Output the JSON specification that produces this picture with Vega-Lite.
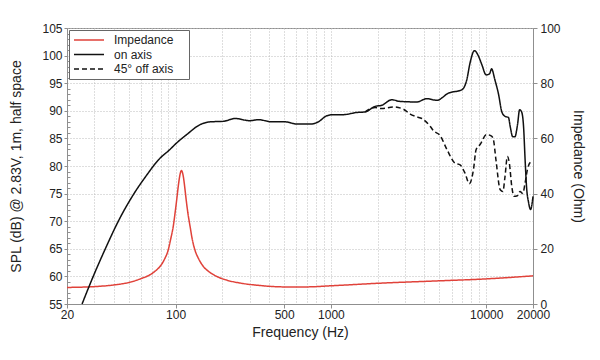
{
  "$schema": "https://vega.github.io/schema/vega-lite/v6.json",
  "width": 466,
  "height": 276,
  "autosize": {"type": "none"},
  "padding": {"left": 67, "top": 28, "right": 67, "bottom": 56},
  "background": "white",
  "config": {
    "font": "Liberation Sans",
    "view": {"stroke": "#8f8f8f", "strokeWidth": 1},
    "axis": {
      "domainColor": "#8f8f8f",
      "tickColor": "#8f8f8f",
      "labelColor": "#222",
      "labelFontSize": 12,
      "labelFont": "Liberation Sans",
      "titleFont": "Liberation Sans",
      "titleFontSize": 14,
      "titleFontWeight": "normal",
      "titleColor": "#222",
      "gridColor": "#bdbdbd",
      "gridDash": [1, 2],
      "gridWidth": 1
    },
    "legend": {
      "orient": "none",
      "legendX": 2,
      "legendY": 2,
      "titleOrient": "right",
      "titleOpacity": 0,
      "titleFontSize": 5,
      "titlePadding": 4,
      "symbolType": "stroke",
      "symbolSize": 900,
      "symbolStrokeWidth": 1.5,
      "labelFontSize": 12,
      "labelColor": "#222",
      "labelFont": "Liberation Sans",
      "labelOffset": 9,
      "clipHeight": 12,
      "rowPadding": 2.5,
      "padding": 4,
      "strokeColor": "#666",
      "fillColor": "white"
    }
  },
  "datasets": {
    "curves": [
      {"series": "Impedance", "freq": 20, "value": 6.0},
      {"series": "Impedance", "freq": 30, "value": 6.3},
      {"series": "Impedance", "freq": 40, "value": 6.9},
      {"series": "Impedance", "freq": 50, "value": 7.8},
      {"series": "Impedance", "freq": 60, "value": 9.2},
      {"series": "Impedance", "freq": 68.4, "value": 10.6},
      {"series": "Impedance", "freq": 75, "value": 12.2},
      {"series": "Impedance", "freq": 79.4, "value": 13.6},
      {"series": "Impedance", "freq": 85, "value": 16.3},
      {"series": "Impedance", "freq": 89.8, "value": 19.7},
      {"series": "Impedance", "freq": 93, "value": 23.5},
      {"series": "Impedance", "freq": 96.6, "value": 28.1},
      {"series": "Impedance", "freq": 99, "value": 32.5},
      {"series": "Impedance", "freq": 101.7, "value": 37.8},
      {"series": "Impedance", "freq": 104, "value": 42.5},
      {"series": "Impedance", "freq": 105.8, "value": 45.6},
      {"series": "Impedance", "freq": 107.5, "value": 47.6},
      {"series": "Impedance", "freq": 109, "value": 48.4},
      {"series": "Impedance", "freq": 110.5, "value": 47.8},
      {"series": "Impedance", "freq": 112.6, "value": 45.6},
      {"series": "Impedance", "freq": 115, "value": 41.5},
      {"series": "Impedance", "freq": 117, "value": 37.8},
      {"series": "Impedance", "freq": 120, "value": 33.0},
      {"series": "Impedance", "freq": 124, "value": 28.1},
      {"series": "Impedance", "freq": 128, "value": 23.5},
      {"series": "Impedance", "freq": 133, "value": 19.7},
      {"series": "Impedance", "freq": 141, "value": 16.3},
      {"series": "Impedance", "freq": 151, "value": 13.6},
      {"series": "Impedance", "freq": 165, "value": 11.6},
      {"series": "Impedance", "freq": 184, "value": 10.0},
      {"series": "Impedance", "freq": 215, "value": 8.6},
      {"series": "Impedance", "freq": 260, "value": 7.6},
      {"series": "Impedance", "freq": 350, "value": 6.7},
      {"series": "Impedance", "freq": 500, "value": 6.2},
      {"series": "Impedance", "freq": 700, "value": 6.2},
      {"series": "Impedance", "freq": 1000, "value": 6.6},
      {"series": "Impedance", "freq": 2000, "value": 7.5},
      {"series": "Impedance", "freq": 5000, "value": 8.4},
      {"series": "Impedance", "freq": 10000, "value": 9.1},
      {"series": "Impedance", "freq": 20000, "value": 10.2},

      {"series": "on axis", "freq": 25, "value": 55.0},
      {"series": "on axis", "freq": 29.5, "value": 60.0},
      {"series": "on axis", "freq": 35.3, "value": 65.0},
      {"series": "on axis", "freq": 42.8, "value": 70.0},
      {"series": "on axis", "freq": 54, "value": 75.0},
      {"series": "on axis", "freq": 65, "value": 78.3},
      {"series": "on axis", "freq": 77.5, "value": 81.1},
      {"series": "on axis", "freq": 92, "value": 83.0},
      {"series": "on axis", "freq": 100, "value": 84.0},
      {"series": "on axis", "freq": 118, "value": 85.7},
      {"series": "on axis", "freq": 144, "value": 87.5},
      {"series": "on axis", "freq": 167, "value": 88.0},
      {"series": "on axis", "freq": 203, "value": 88.1},
      {"series": "on axis", "freq": 242, "value": 88.6},
      {"series": "on axis", "freq": 301, "value": 88.2},
      {"series": "on axis", "freq": 341, "value": 88.4},
      {"series": "on axis", "freq": 416, "value": 88.0},
      {"series": "on axis", "freq": 507, "value": 88.0},
      {"series": "on axis", "freq": 603, "value": 87.6},
      {"series": "on axis", "freq": 735, "value": 87.6},
      {"series": "on axis", "freq": 830, "value": 88.0},
      {"series": "on axis", "freq": 940, "value": 89.1},
      {"series": "on axis", "freq": 1037, "value": 89.3},
      {"series": "on axis", "freq": 1203, "value": 89.3},
      {"series": "on axis", "freq": 1468, "value": 89.7},
      {"series": "on axis", "freq": 1660, "value": 89.8},
      {"series": "on axis", "freq": 1924, "value": 90.8},
      {"series": "on axis", "freq": 2125, "value": 91.0},
      {"series": "on axis", "freq": 2464, "value": 92.0},
      {"series": "on axis", "freq": 2787, "value": 91.7},
      {"series": "on axis", "freq": 3571, "value": 91.6},
      {"series": "on axis", "freq": 4141, "value": 92.2},
      {"series": "on axis", "freq": 4806, "value": 91.9},
      {"series": "on axis", "freq": 5711, "value": 93.2},
      {"series": "on axis", "freq": 6952, "value": 93.8},
      {"series": "on axis", "freq": 7493, "value": 95.6},
      {"series": "on axis", "freq": 7870, "value": 98.7},
      {"series": "on axis", "freq": 8398, "value": 100.9},
      {"series": "on axis", "freq": 8915, "value": 99.9},
      {"series": "on axis", "freq": 9360, "value": 98.4},
      {"series": "on axis", "freq": 9980, "value": 96.5},
      {"series": "on axis", "freq": 10500, "value": 96.7},
      {"series": "on axis", "freq": 10820, "value": 97.6},
      {"series": "on axis", "freq": 11370, "value": 95.6},
      {"series": "on axis", "freq": 12000, "value": 93.0},
      {"series": "on axis", "freq": 12600, "value": 89.8},
      {"series": "on axis", "freq": 13210, "value": 89.0},
      {"series": "on axis", "freq": 13890, "value": 88.8},
      {"series": "on axis", "freq": 14300, "value": 87.0},
      {"series": "on axis", "freq": 14800, "value": 85.3},
      {"series": "on axis", "freq": 15300, "value": 85.3},
      {"series": "on axis", "freq": 15900, "value": 87.5},
      {"series": "on axis", "freq": 16400, "value": 90.2},
      {"series": "on axis", "freq": 16900, "value": 89.8},
      {"series": "on axis", "freq": 17400, "value": 87.0},
      {"series": "on axis", "freq": 17800, "value": 81.0},
      {"series": "on axis", "freq": 18200, "value": 76.0},
      {"series": "on axis", "freq": 18700, "value": 73.5},
      {"series": "on axis", "freq": 19300, "value": 72.1},
      {"series": "on axis", "freq": 19750, "value": 73.3},
      {"series": "on axis", "freq": 20000, "value": 74.5},

      {"series": "45° off axis", "freq": 1660, "value": 89.8},
      {"series": "45° off axis", "freq": 1924, "value": 90.6},
      {"series": "45° off axis", "freq": 2125, "value": 90.4},
      {"series": "45° off axis", "freq": 2525, "value": 90.7},
      {"series": "45° off axis", "freq": 2929, "value": 90.3},
      {"series": "45° off axis", "freq": 3236, "value": 89.4},
      {"series": "45° off axis", "freq": 3571, "value": 88.9},
      {"series": "45° off axis", "freq": 3849, "value": 88.6},
      {"series": "45° off axis", "freq": 4352, "value": 87.2},
      {"series": "45° off axis", "freq": 4572, "value": 86.4},
      {"series": "45° off axis", "freq": 5050, "value": 85.5},
      {"series": "45° off axis", "freq": 5580, "value": 83.0},
      {"series": "45° off axis", "freq": 6300, "value": 80.5},
      {"series": "45° off axis", "freq": 6791, "value": 80.2},
      {"series": "45° off axis", "freq": 7300, "value": 78.7},
      {"series": "45° off axis", "freq": 7780, "value": 76.8},
      {"series": "45° off axis", "freq": 8270, "value": 79.3},
      {"series": "45° off axis", "freq": 8610, "value": 83.0},
      {"series": "45° off axis", "freq": 9130, "value": 83.9},
      {"series": "45° off axis", "freq": 10050, "value": 85.7},
      {"series": "45° off axis", "freq": 10820, "value": 85.4},
      {"series": "45° off axis", "freq": 11120, "value": 84.8},
      {"series": "45° off axis", "freq": 11550, "value": 81.1},
      {"series": "45° off axis", "freq": 12300, "value": 75.7},
      {"series": "45° off axis", "freq": 12800, "value": 75.4},
      {"series": "45° off axis", "freq": 13210, "value": 78.1},
      {"series": "45° off axis", "freq": 13680, "value": 81.7},
      {"series": "45° off axis", "freq": 14090, "value": 80.5},
      {"series": "45° off axis", "freq": 14600, "value": 76.3},
      {"series": "45° off axis", "freq": 15110, "value": 74.5},
      {"series": "45° off axis", "freq": 15860, "value": 74.6},
      {"series": "45° off axis", "freq": 16510, "value": 75.4},
      {"series": "45° off axis", "freq": 17180, "value": 75.0},
      {"series": "45° off axis", "freq": 17780, "value": 76.9},
      {"series": "45° off axis", "freq": 18390, "value": 79.3},
      {"series": "45° off axis", "freq": 19160, "value": 80.6},
      {"series": "45° off axis", "freq": 20000, "value": 80.8}
    ]
  },
  "data": {"name": "curves"},
  "encoding": {
    "x": {
      "field": "freq",
      "type": "quantitative",
      "scale": {"type": "log", "domain": [20, 20000], "nice": false},
      "axis": {
        "values": [20, 30, 40, 50, 60, 70, 80, 90, 100, 200, 300, 400, 500, 600, 700, 800, 900, 1000, 2000, 3000, 4000, 5000, 6000, 7000, 8000, 9000, 10000, 20000],
        "labelExpr": "indexof([20,100,500,1000,10000,20000], datum.value) >= 0 ? '' + datum.value : ''",
        "labelOverlap": false,
        "labelFlush": false,
        "grid": true,
        "tickSize": 4,
        "tickOpacity": {"condition": {"test": "indexof([20,100,500,1000,10000,20000], datum.value) >= 0", "value": 1}, "value": 0},
        "labelPadding": 1,
        "title": "Frequency (Hz)",
        "titlePadding": 5
      }
    }
  },
  "layer": [
    {
      "transform": [{"filter": "datum.series == 'Impedance'"}],
      "mark": {"type": "line", "strokeWidth": 1.5, "interpolate": "monotone"},
      "encoding": {
        "y": {
          "field": "value",
          "type": "quantitative",
          "scale": {"domain": [0, 100], "nice": false, "zero": false},
          "axis": {
            "orient": "right",
            "values": [0, 20, 40, 60, 80, 100],
            "grid": false,
            "tickSize": 4,
            "labelPadding": 3,
            "title": "Impedance (Ohm)",
            "titlePadding": 10
          }
        },
        "color": {
          "field": "series",
          "type": "nominal",
          "title": "ww",
          "scale": {"domain": ["Impedance", "on axis", "45° off axis"], "range": ["#e0423a", "#111111", "#111111"]}
        },
        "strokeDash": {
          "field": "series",
          "type": "nominal",
          "title": "ww",
          "scale": {"domain": ["Impedance", "on axis", "45° off axis"], "range": [[1, 0], [1, 0], [5, 3]]}
        }
      }
    },
    {
      "transform": [{"filter": "datum.series != 'Impedance'"}],
      "mark": {"type": "line", "opacity": 0},
      "encoding": {
        "y": {
          "field": "value",
          "type": "quantitative",
          "scale": {"domain": [55, 105], "nice": false, "zero": false},
          "axis": {
            "orient": "left",
            "values": [56, 57, 58, 59, 61, 62, 63, 64, 66, 67, 68, 69, 71, 72, 73, 74, 76, 77, 78, 79, 81, 82, 83, 84, 86, 87, 88, 89, 91, 92, 93, 94, 96, 97, 98, 99, 101, 102, 103, 104],
            "grid": false,
            "labels": false,
            "domain": false,
            "tickSize": -3,
            "title": null
          }
        }
      }
    },
    {
      "transform": [{"filter": "datum.series != 'Impedance'"}],
      "mark": {"type": "line", "strokeWidth": 1.5, "interpolate": "monotone"},
      "encoding": {
        "y": {
          "field": "value",
          "type": "quantitative",
          "scale": {"domain": [55, 105], "nice": false, "zero": false},
          "axis": {
            "orient": "left",
            "values": [55, 60, 65, 70, 75, 80, 85, 90, 95, 100, 105],
            "grid": true,
            "tickSize": 3,
            "labelPadding": 2,
            "title": "SPL (dB) @ 2.83V, 1m, half space",
            "titlePadding": 18
          }
        },
        "color": {
          "field": "series",
          "type": "nominal",
          "title": "ww",
          "scale": {"domain": ["Impedance", "on axis", "45° off axis"], "range": ["#e0423a", "#111111", "#111111"]}
        },
        "strokeDash": {
          "field": "series",
          "type": "nominal",
          "title": "ww",
          "scale": {"domain": ["Impedance", "on axis", "45° off axis"], "range": [[1, 0], [1, 0], [5, 3]]}
        },
        "detail": {"field": "series"}
      }
    }
  ],
  "resolve": {"scale": {"y": "independent"}, "axis": {"y": "independent"}}
}
